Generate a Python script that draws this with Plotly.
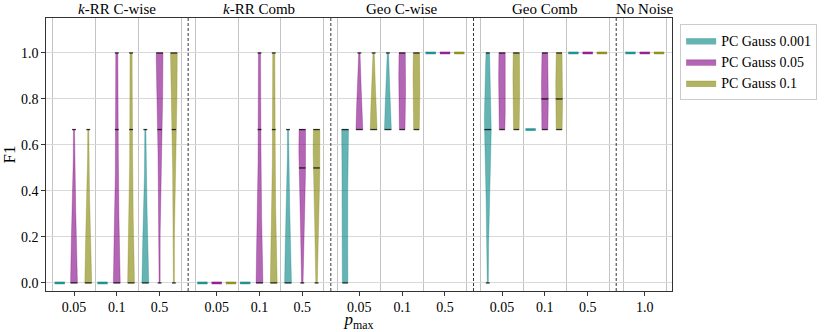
import numpy as np
import plotly.graph_objects as go

# panels and their p_max ticks
groups = ["<i>k</i>-RR C-wise", "<i>k</i>-RR Comb", "Geo C-wise", "Geo Comb", "No Noise"]
p_max = [["0.05", "0.1", "0.5"], ["0.05", "0.1", "0.5"], ["0.05", "0.1", "0.5"],
         ["0.05", "0.1", "0.5"], ["1.0"]]

series = ["PC Gauss 0.001", "PC Gauss 0.05", "PC Gauss 0.1"]
colors = [(0, 128, 128), (128, 0, 128), (128, 128, 0)]

# F1 of each run, one list per (panel, p_max) slot, in slot order
f1_gauss_0001 = [
    [0, 0, 0, 0, 0, 0, 0, 0, 0],
    [0, 0, 0, 0, 0, 0, 0, 0, 0],
    [0, 0, 0, 0, 0, 0, 0, 0, 0.667],
    [0, 0, 0, 0, 0, 0, 0, 0, 0],
    [0, 0, 0, 0, 0, 0, 0, 0, 0],
    [0, 0, 0, 0, 0, 0, 0, 0, 0.667],
    [0, 0, 0, 0, 0.667, 0.667, 0.667, 0.667, 0.667],
    [0.667, 0.667, 0.667, 0.667, 0.667, 0.667, 0.667, 0.667, 1.0],
    [1.0, 1.0, 1.0, 1.0, 1.0, 1.0, 1.0, 1.0, 1.0],
    [0, 0.667, 0.667, 0.667, 0.667, 0.667, 0.667, 0.667, 1.0],
    [0.667, 0.667, 0.667, 0.667, 0.667, 0.667, 0.667, 0.667, 0.667],
    [1.0, 1.0, 1.0, 1.0, 1.0, 1.0, 1.0, 1.0, 1.0],
    [1.0, 1.0, 1.0, 1.0, 1.0, 1.0, 1.0, 1.0, 1.0],
]
f1_gauss_005 = [
    [0, 0, 0, 0, 0, 0, 0, 0, 0.667],
    [0, 0, 0, 0, 0, 0, 0.667, 0.667, 1.0],
    [0, 0.667, 0.667, 1.0, 1.0, 1.0, 1.0, 1.0, 1.0],
    [0, 0, 0, 0, 0, 0, 0, 0, 0],
    [0, 0, 0, 0, 0, 0, 0.667, 0.667, 1.0],
    [0, 0.5, 0.5, 0.5, 0.5, 0.667, 0.667, 0.667, 0.667],
    [0.667, 0.667, 0.667, 0.667, 0.667, 0.667, 0.667, 0.667, 1.0],
    [0.667, 0.667, 0.667, 0.667, 1.0, 1.0, 1.0, 1.0, 1.0],
    [1.0, 1.0, 1.0, 1.0, 1.0, 1.0, 1.0, 1.0, 1.0],
    [0.667, 0.667, 0.667, 0.667, 1.0, 1.0, 1.0, 1.0, 1.0],
    [0.667, 0.667, 0.667, 0.667, 0.8, 1.0, 1.0, 1.0, 1.0],
    [1.0, 1.0, 1.0, 1.0, 1.0, 1.0, 1.0, 1.0, 1.0],
    [1.0, 1.0, 1.0, 1.0, 1.0, 1.0, 1.0, 1.0, 1.0],
]
f1_gauss_01 = [
    [0, 0, 0, 0, 0, 0, 0, 0, 0.667],
    [0, 0, 0, 0, 0, 0, 0.667, 0.667, 1.0],
    [0, 0.667, 0.667, 1.0, 1.0, 1.0, 1.0, 1.0, 1.0],
    [0, 0, 0, 0, 0, 0, 0, 0, 0],
    [0, 0, 0, 0, 0, 0, 0.667, 0.667, 1.0],
    [0, 0.5, 0.5, 0.5, 0.5, 0.667, 0.667, 0.667, 0.667],
    [0.667, 0.667, 0.667, 0.667, 0.667, 0.667, 0.667, 0.667, 1.0],
    [0.667, 0.667, 0.667, 0.667, 1.0, 1.0, 1.0, 1.0, 1.0],
    [1.0, 1.0, 1.0, 1.0, 1.0, 1.0, 1.0, 1.0, 1.0],
    [0.667, 0.667, 0.667, 0.667, 1.0, 1.0, 1.0, 1.0, 1.0],
    [0.667, 0.667, 0.667, 0.667, 0.8, 1.0, 1.0, 1.0, 1.0],
    [1.0, 1.0, 1.0, 1.0, 1.0, 1.0, 1.0, 1.0, 1.0],
    [1.0, 1.0, 1.0, 1.0, 1.0, 1.0, 1.0, 1.0, 1.0],
]
all_f1 = [f1_gauss_0001, f1_gauss_005, f1_gauss_01]

FONT = "Liberation Serif"
STRIDE = 10 / 3          # distance between panels
OFFSETS = [-1 / 3, 0, 1 / 3]
WIDTH = 0.16             # full violin width
FLAT_WIDTH = 0.24        # width of single-valued violins
BW_ADJUST = 2.0
BW_MAX = 0.25


def rgba(c, a):
    return f"rgba({c[0]},{c[1]},{c[2]},{a})"


#slot positions on the numeric x axis
pos, labels, centers, seps = [], [], [], []
for g, ticks in enumerate(p_max):
    xs = [g * STRIDE + i for i in range(len(ticks))]
    pos += xs
    labels += ticks
    centers.append(np.mean(xs))
    if g < len(p_max) - 1:
        seps.append((xs[-1] + (g + 1) * STRIDE) / 2)
edges = sorted(set([p - .5 for p in pos] + [p + .5 for p in pos]))


def kde(samples):
    s = np.asarray(samples, float)
    grid = np.linspace(s.min(), s.max(), 100)
    bw = min(s.std(ddof=1) * len(s) ** (-1 / 5) * BW_ADJUST, BW_MAX)
    d = np.exp(-.5 * ((grid[:, None] - s[None, :]) / bw) ** 2).sum(1)
    return grid, d / d.max()


fig = go.Figure()
for k, (name, col, f1) in enumerate(zip(series, colors, all_f1)):
    shown = False
    mx, my = [], []
    for p, s in zip(pos, f1):
        x0 = p + OFFSETS[k]
        if len(set(s)) == 1:
            fig.add_trace(go.Scatter(x=[x0 - FLAT_WIDTH / 2, x0 + FLAT_WIDTH / 2], y=[s[0], s[0]],
                mode='lines', line=dict(color=rgba(col, .85), width=2.5),
                showlegend=False, hoverinfo='skip'))
            continue
        grid, d = kde(s)
        hw = d * WIDTH / 2
        fig.add_trace(go.Scatter(
            x=np.concatenate([x0 - hw, (x0 + hw)[::-1]]),
            y=np.concatenate([grid, grid[::-1]]),
            mode='lines', fill='toself', fillcolor=rgba(col, .6),
            line=dict(color=rgba(col, .6), width=.5),
            name=name, legendgroup=name, showlegend=not shown, hoverinfo='skip'))
        shown = True
        #extremes and quartile markers
        for v in sorted(set(np.percentile(s, [0, 25, 50, 75, 100]).round(3))):
            w = max(np.interp(v, grid, hw), .045)
            mx += [x0 - w, x0 + w, None]
            my += [v, v, None]
    fig.add_trace(go.Scatter(x=mx, y=my, mode='lines', line=dict(color='rgba(0,0,0,0.8)', width=1.3),
        showlegend=False, hoverinfo='skip'))

#dashed panel separators
for x in seps:
    fig.add_shape(type='line', x0=x, x1=x, y0=0, y1=1, yref='paper',
        line=dict(color='black', width=.8, dash='3px,2px'))

for c, t in zip(centers, groups):
    fig.add_annotation(x=c, y=1, yref='paper', yanchor='bottom', text=t, showarrow=False,
        font=dict(family=FONT, size=15, color='black'), yshift=-1)

fig.update_layout(
    width=830, height=332,
    margin=dict(l=46, r=158, t=18, b=41),
    plot_bgcolor='white', paper_bgcolor='white',
    font=dict(family=FONT, size=14, color='black'),
    showlegend=True,
    legend=dict(x=1.013, y=0.978, xanchor='left', yanchor='top',
        bordercolor='#cccccc', borderwidth=1, font=dict(size=14),
        tracegroupgap=0),
    xaxis=dict(range=[-0.654, 13.97], tickvals=pos, ticktext=labels, automargin=False,
        ticks='outside', ticklen=3.5, tickcolor='#333', showgrid=False, zeroline=False,
        showline=True, linecolor='#333', linewidth=1.2, mirror=True,
        minor=dict(tickmode='array', tickvals=edges, showgrid=True,
            gridcolor='#c4c4c4', gridwidth=1, ticks=''),
        title=dict(text='<i>p</i><sub>max</sub>', standoff=4)),
    yaxis=dict(range=[-0.035, 1.152], tickvals=[0, .2, .4, .6, .8, 1.0], automargin=False,
        ticktext=['0.0', '0.2', '0.4', '0.6', '0.8', '1.0'],
        ticks='outside', ticklen=3.5, tickcolor='#333', showgrid=True, gridcolor='#d9d9d9',
        zeroline=False, showline=True, linecolor='#333', linewidth=1.2, mirror=True,
        title=dict(text='F1', standoff=8)),
)

#drop the browser's default body margin so the figure fills the window
fig.write_html("out.html", config={'displayModeBar': False},
    post_script="document.body.style.margin='0';")
